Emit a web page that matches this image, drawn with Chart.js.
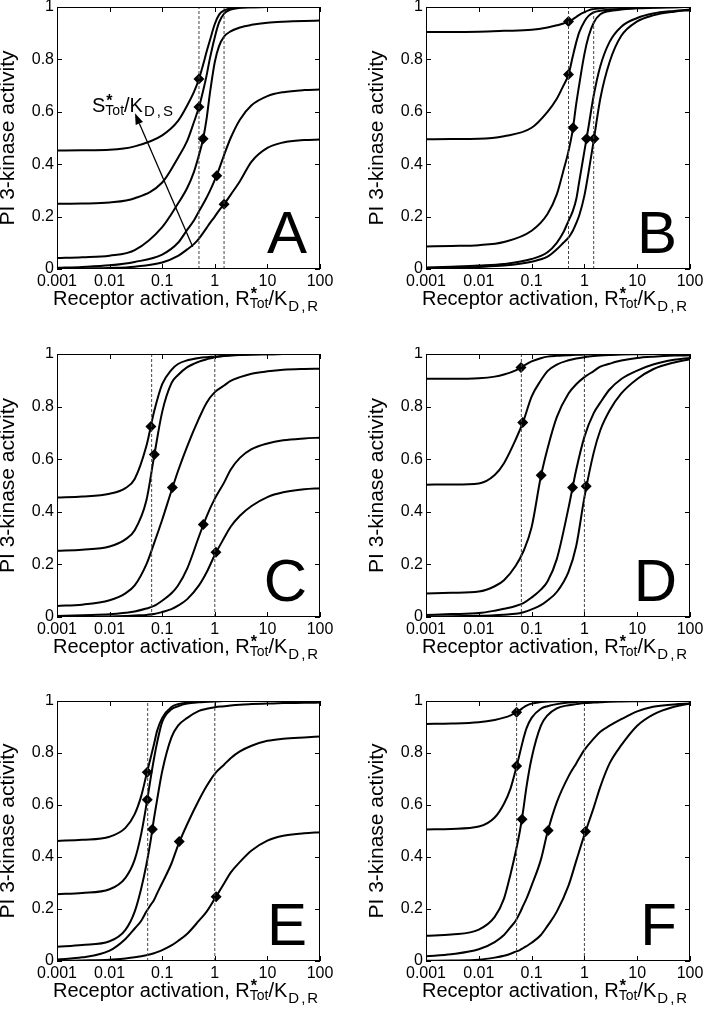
<!DOCTYPE html>
<html>
<head>
<meta charset="utf-8">
<script src="https://cdn.jsdelivr.net/npm/chart.js@4/dist/chart.umd.min.js"></script>
<style>
html, body { margin: 0; padding: 0; background: #fff; }
#wrap { position: relative; width: 705px; height: 1014px; overflow: hidden; background: #fff; }
#wrap canvas { position: absolute; }
</style>
</head>
<body>
<div id="wrap"></div>
<script>
// ---------- tick labels / texts ----------
const xTickValues = [0.001, 0.01, 0.1, 1, 10, 100];
const xTickLabels = ['0.001', '0.01', '0.1', '1', '10', '100'];
const yTickValues = [0, 0.2, 0.4, 0.6, 0.8, 1];
const yTickLabels = ['0', '0.2', '0.4', '0.6', '0.8', '1'];
const xTitleParts = ['Receptor activation, R', '*', 'Tot', '/K', 'D,R'];
const yTitleText = 'PI 3-kinase activity';
const noteParts = ['S', '*', 'Tot', '/K', 'D,S'];
const arrowFrom = [0.38, 0.085];
const arrowTo = [0.0304, 0.594];

// ---------- panel A ----------
const xGridAB = [0.001, 0.003, 0.01, 0.03, 0.1, 0.2, 0.3, 0.4, 0.5, 0.6, 0.7, 0.8, 1, 1.2, 1.5, 2, 3, 5, 10, 20, 50, 100];
const curveA1 = [0.452, 0.453, 0.455, 0.468, 0.51, 0.565, 0.625, 0.675, 0.725, 0.78, 0.83, 0.87, 0.935, 0.97, 0.987, 0.995, 0.998, 0.999, 1, 1, 1, 1];
const curveA2 = [0.249, 0.25, 0.254, 0.27, 0.33, 0.425, 0.49, 0.56, 0.618, 0.68, 0.74, 0.80, 0.885, 0.94, 0.975, 0.99, 0.997, 0.999, 1, 1, 1, 1];
const curveA3 = [0.042, 0.045, 0.051, 0.072, 0.16, 0.25, 0.31, 0.37, 0.435, 0.497, 0.575, 0.665, 0.79, 0.85, 0.887, 0.907, 0.922, 0.932, 0.94, 0.944, 0.947, 0.948];
const curveA4 = [0.005, 0.008, 0.014, 0.027, 0.055, 0.1, 0.15, 0.185, 0.22, 0.248, 0.273, 0.296, 0.34, 0.38, 0.435, 0.5, 0.57, 0.625, 0.66, 0.675, 0.683, 0.685];
const curveA5 = [0, 0.002, 0.004, 0.009, 0.025, 0.05, 0.075, 0.095, 0.116, 0.138, 0.157, 0.174, 0.2, 0.223, 0.247, 0.283, 0.335, 0.41, 0.462, 0.483, 0.492, 0.494];
const markerXA = [0.5, 0.5, 0.6, 1.09, 1.5];
const markerYA = [0.725, 0.618, 0.497, 0.356, 0.247];
const dashXA = [0.5, 1.5];

// ---------- panel B ----------
const curveB1 = [0.905, 0.905, 0.906, 0.909, 0.913, 0.922, 0.93, 0.937, 0.945, 0.953, 0.962, 0.97, 0.98, 0.987, 0.992, 0.995, 0.998, 0.999, 1, 1, 1, 1];
const curveB2 = [0.495, 0.496, 0.497, 0.507, 0.539, 0.60, 0.65, 0.70, 0.742, 0.81, 0.865, 0.904, 0.945, 0.966, 0.98, 0.986, 0.99, 0.993, 0.996, 0.998, 0.999, 1];
const curveB3 = [0.086, 0.088, 0.091, 0.103, 0.146, 0.21, 0.285, 0.375, 0.45, 0.53, 0.63, 0.705, 0.82, 0.888, 0.94, 0.972, 0.985, 0.99, 0.995, 0.997, 0.999, 1];
const curveB4 = [0.006, 0.009, 0.013, 0.019, 0.038, 0.064, 0.10, 0.14, 0.184, 0.22, 0.266, 0.335, 0.45, 0.544, 0.662, 0.774, 0.867, 0.925, 0.958, 0.975, 0.985, 0.99];
const curveB5 = [0.003, 0.005, 0.008, 0.013, 0.028, 0.047, 0.075, 0.10, 0.12, 0.145, 0.175, 0.205, 0.28, 0.37, 0.49, 0.65, 0.79, 0.89, 0.945, 0.968, 0.982, 0.988];
const markerXB = [0.5, 0.5, 0.61, 1.1, 1.52];
const markerYB = [0.945, 0.742, 0.539, 0.497, 0.497];
const dashXB = [0.5, 1.5];

// ---------- panel C ----------
const xGridCD = [0.001, 0.003, 0.01, 0.02, 0.03, 0.05, 0.07, 0.1, 0.15, 0.2, 0.3, 0.5, 0.7, 1, 1.5, 2, 3, 5, 10, 20, 50, 100];
const curveC1 = [0.454, 0.458, 0.469, 0.49, 0.525, 0.65, 0.78, 0.885, 0.94, 0.962, 0.976, 0.985, 0.988, 0.99, 0.993, 0.995, 0.997, 0.998, 0.999, 1, 1, 1];
const curveC2 = [0.252, 0.256, 0.268, 0.295, 0.33, 0.443, 0.61, 0.78, 0.889, 0.92, 0.95, 0.971, 0.98, 0.988, 0.992, 0.994, 0.996, 0.998, 0.999, 1, 1, 1];
const curveC3 = [0.042, 0.047, 0.064, 0.09, 0.12, 0.2, 0.28, 0.37, 0.48, 0.555, 0.65, 0.755, 0.815, 0.855, 0.88, 0.898, 0.912, 0.925, 0.934, 0.94, 0.943, 0.944];
const curveC4 = [0.004, 0.007, 0.01, 0.016, 0.021, 0.032, 0.042, 0.062, 0.09, 0.12, 0.185, 0.306, 0.383, 0.45, 0.511, 0.56, 0.605, 0.638, 0.66, 0.672, 0.679, 0.682];
const curveC5 = [0, 0.001, 0.002, 0.004, 0.006, 0.008, 0.011, 0.019, 0.03, 0.043, 0.068, 0.12, 0.17, 0.236, 0.3, 0.343, 0.385, 0.422, 0.456, 0.474, 0.486, 0.49];
const markerXC = [0.061, 0.071, 0.156, 0.605, 1.05];
const markerYC = [0.724, 0.618, 0.492, 0.352, 0.246];
const dashXC = [0.063, 1];

// ---------- panel D ----------
const curveD1 = [0.906, 0.906, 0.908, 0.914, 0.922, 0.938, 0.955, 0.972, 0.984, 0.99, 0.993, 0.995, 0.997, 0.998, 1, 1, 1, 1, 1, 1, 1, 1];
const curveD2 = [0.503, 0.504, 0.508, 0.54, 0.585, 0.675, 0.745, 0.838, 0.90, 0.935, 0.96, 0.976, 0.983, 0.988, 0.992, 0.994, 0.996, 0.998, 0.999, 1, 1, 1];
const curveD3 = [0.089, 0.092, 0.097, 0.117, 0.14, 0.195, 0.25, 0.341, 0.535, 0.64, 0.76, 0.85, 0.885, 0.912, 0.935, 0.952, 0.963, 0.975, 0.985, 0.99, 0.994, 0.995];
const curveD4 = [0.008, 0.011, 0.015, 0.024, 0.031, 0.042, 0.053, 0.074, 0.104, 0.135, 0.22, 0.415, 0.56, 0.685, 0.775, 0.815, 0.865, 0.905, 0.937, 0.96, 0.978, 0.985];
const curveD5 = [0.002, 0.003, 0.005, 0.007, 0.009, 0.012, 0.018, 0.029, 0.045, 0.063, 0.095, 0.172, 0.27, 0.455, 0.625, 0.71, 0.785, 0.85, 0.905, 0.942, 0.968, 0.98];
const markerXD = [0.063, 0.068, 0.152, 0.596, 1.08];
const markerYD = [0.949, 0.74, 0.539, 0.492, 0.497];
const dashXD = [0.064, 1];

// ---------- panel E ----------
const xGridEF = [0.001, 0.003, 0.01, 0.02, 0.03, 0.04, 0.05, 0.06, 0.07, 0.08, 0.1, 0.15, 0.2, 0.3, 0.5, 0.7, 1, 1.5, 2, 3, 5, 10, 20, 50, 100];
const curveE1 = [0.462, 0.466, 0.478, 0.512, 0.565, 0.635, 0.715, 0.78, 0.835, 0.885, 0.935, 0.977, 0.988, 0.994, 0.997, 0.998, 0.999, 1, 1, 1, 1, 1, 1, 1, 1];
const curveE2 = [0.257, 0.262, 0.276, 0.32, 0.39, 0.49, 0.60, 0.70, 0.78, 0.84, 0.92, 0.968, 0.98, 0.99, 0.995, 0.997, 0.999, 1, 1, 1, 1, 1, 1, 1, 1];
const curveE3 = [0.055, 0.062, 0.076, 0.12, 0.19, 0.28, 0.37, 0.46, 0.55, 0.62, 0.73, 0.86, 0.905, 0.935, 0.962, 0.97, 0.976, 0.98, 0.983, 0.986, 0.988, 0.99, 0.992, 0.993, 0.994];
const curveE4 = [0.006, 0.014, 0.04, 0.085, 0.125, 0.155, 0.19, 0.215, 0.235, 0.26, 0.3, 0.375, 0.445, 0.527, 0.619, 0.673, 0.72, 0.755, 0.78, 0.806, 0.828, 0.847, 0.855, 0.86, 0.863];
const curveE5 = [0, 0.002, 0.005, 0.01, 0.014, 0.018, 0.022, 0.026, 0.03, 0.034, 0.042, 0.06, 0.077, 0.105, 0.155, 0.19, 0.24, 0.298, 0.34, 0.381, 0.425, 0.463, 0.482, 0.491, 0.495];
const markerXE = [0.052, 0.052, 0.065, 0.211, 1.06];
const markerYE = [0.726, 0.62, 0.507, 0.46, 0.247];
const dashXE = [0.053, 1];

// ---------- panel F ----------
const curveF1 = [0.912, 0.913, 0.918, 0.927, 0.936, 0.945, 0.955, 0.965, 0.975, 0.982, 0.99, 0.996, 0.998, 0.999, 1, 1, 1, 1, 1, 1, 1, 1, 1, 1, 1];
const curveF2 = [0.506, 0.508, 0.517, 0.552, 0.605, 0.664, 0.735, 0.80, 0.855, 0.895, 0.935, 0.97, 0.98, 0.988, 0.994, 0.996, 0.998, 0.999, 1, 1, 1, 1, 1, 1, 1];
const curveF3 = [0.097, 0.102, 0.121, 0.17, 0.24, 0.335, 0.42, 0.5, 0.585, 0.67, 0.78, 0.905, 0.945, 0.972, 0.984, 0.988, 0.992, 0.994, 0.995, 0.997, 0.998, 0.999, 1, 1, 1];
const curveF4 = [0.018, 0.026, 0.045, 0.073, 0.1, 0.13, 0.155, 0.185, 0.215, 0.24, 0.29, 0.39, 0.495, 0.61, 0.71, 0.76, 0.812, 0.855, 0.882, 0.905, 0.93, 0.96, 0.978, 0.987, 0.99];
const curveF5 = [0.001, 0.002, 0.005, 0.013, 0.02, 0.028, 0.036, 0.042, 0.05, 0.057, 0.07, 0.1, 0.135, 0.19, 0.29, 0.385, 0.485, 0.59, 0.67, 0.76, 0.83, 0.905, 0.948, 0.978, 0.99];
const markerXF = [0.052, 0.052, 0.066, 0.206, 1.05];
const markerYF = [0.957, 0.75, 0.545, 0.502, 0.498];
const dashXF = [0.052, 1];

// ---------- layout (positions / styles) ----------
const SANS = '"Liberation Sans", Arial, Helvetica, sans-serif';
const XAXIS_H = 30;
const panels = [
  { letter: 'A', grid: xGridAB, curves: [curveA1, curveA2, curveA3, curveA4, curveA5], mx: markerXA, my: markerYA, dash: dashXA,
    left: 0, top: 0, w: 352, h: 347, area: { l: 57, r: 320, t: 7, b: 269 }, note: true },
  { letter: 'B', grid: xGridAB, curves: [curveB1, curveB2, curveB3, curveB4, curveB5], mx: markerXB, my: markerYB, dash: dashXB,
    left: 352, top: 0, w: 353, h: 347, area: { l: 74, r: 338, t: 7, b: 269 } },
  { letter: 'C', grid: xGridCD, curves: [curveC1, curveC2, curveC3, curveC4, curveC5], mx: markerXC, my: markerYC, dash: dashXC,
    left: 0, top: 347, w: 352, h: 347, area: { l: 57, r: 320, t: 7, b: 270 } },
  { letter: 'D', grid: xGridCD, curves: [curveD1, curveD2, curveD3, curveD4, curveD5], mx: markerXD, my: markerYD, dash: dashXD,
    left: 352, top: 347, w: 353, h: 347, area: { l: 74, r: 338, t: 7, b: 270 } },
  { letter: 'E', grid: xGridEF, curves: [curveE1, curveE2, curveE3, curveE4, curveE5], mx: markerXE, my: markerYE, dash: dashXE,
    left: 0, top: 694, w: 352, h: 320, area: { l: 57, r: 320, t: 7, b: 267 } },
  { letter: 'F', grid: xGridEF, curves: [curveF1, curveF2, curveF3, curveF4, curveF5], mx: markerXF, my: markerYF, dash: dashXF,
    left: 352, top: 694, w: 353, h: 320, area: { l: 74, r: 338, t: 7, b: 267 } }
];

function drawScripted(ctx, x, y, parts, mainSize, subDy2) {
  ctx.textAlign = 'left';
  ctx.textBaseline = 'alphabetic';
  ctx.font = mainSize + 'px ' + SANS;
  ctx.fillText(parts[0], x, y);
  x += ctx.measureText(parts[0]).width;
  ctx.font = 'bold 16px ' + SANS;
  ctx.fillText(parts[1], x + 1, y - 6);
  ctx.font = '14px ' + SANS;
  ctx.fillText(parts[2], x, y + 3);
  x += ctx.measureText(parts[2]).width;
  ctx.font = mainSize + 'px ' + SANS;
  ctx.fillText(parts[3], x, y);
  x += ctx.measureText(parts[3]).width;
  ctx.font = '15px ' + SANS;
  try { ctx.letterSpacing = '2px'; } catch (e) {}
  ctx.fillText(parts[4], x + 1, y + subDy2);
  try { ctx.letterSpacing = '0px'; } catch (e) {}
}

function decoPlugin(p) {
  return {
    id: 'deco' + p.letter,
    afterDraw(chart) {
      const ctx = chart.ctx, a = chart.chartArea, xs = chart.scales.x, ys = chart.scales.y;
      ctx.save();
      ctx.strokeStyle = '#000';
      ctx.lineWidth = 1;
      ctx.strokeRect(a.left + 0.5, a.top + 0.5, a.right - a.left - 1, a.bottom - a.top - 1);
      ctx.beginPath();
      xTickValues.forEach(v => {
        const px = Math.round(xs.getPixelForValue(v)) + 0.5;
        ctx.moveTo(px, a.bottom); ctx.lineTo(px, a.bottom - 5);
        ctx.moveTo(px, a.top); ctx.lineTo(px, a.top + 5);
      });
      yTickValues.forEach(v => {
        const py = Math.round(ys.getPixelForValue(v)) + 0.5;
        ctx.moveTo(a.left, py); ctx.lineTo(a.left + 5, py);
        ctx.moveTo(a.right, py); ctx.lineTo(a.right - 5, py);
      });
      ctx.stroke();
      ctx.fillStyle = '#000';
      ctx.font = '60px ' + SANS;
      ctx.textAlign = 'right';
      ctx.textBaseline = 'alphabetic';
      ctx.fillText(p.letter, a.right - 13, a.bottom - 16);
      ctx.save();
      ctx.translate(a.left - 49, (a.top + a.bottom) / 2);
      ctx.rotate(-Math.PI / 2);
      ctx.font = '21px ' + SANS;
      ctx.textAlign = 'center';
      ctx.textBaseline = 'middle';
      ctx.fillText(yTitleText, 0, 0);
      ctx.restore();
      drawScripted(ctx, a.left - 4, a.bottom + 36, xTitleParts, 20, 6);
      if (p.note) {
        drawScripted(ctx, a.left + 35, a.top + 105, noteParts, 20, 4);
        const x0 = xs.getPixelForValue(arrowFrom[0]), y0 = ys.getPixelForValue(arrowFrom[1]);
        const x1 = xs.getPixelForValue(arrowTo[0]), y1 = ys.getPixelForValue(arrowTo[1]);
        const ang = Math.atan2(y1 - y0, x1 - x0);
        const hl = 11, hw = 4;
        const bx = x1 - hl * Math.cos(ang), by = y1 - hl * Math.sin(ang);
        ctx.lineWidth = 1.3;
        ctx.beginPath();
        ctx.moveTo(x0, y0); ctx.lineTo(bx, by);
        ctx.stroke();
        ctx.beginPath();
        ctx.moveTo(x1, y1);
        ctx.lineTo(bx + hw * Math.sin(ang), by - hw * Math.cos(ang));
        ctx.lineTo(bx - hw * Math.sin(ang), by + hw * Math.cos(ang));
        ctx.closePath();
        ctx.fill();
      }
      ctx.restore();
    }
  };
}

const wrap = document.getElementById('wrap');
panels.forEach(p => {
  const cv = document.createElement('canvas');
  cv.width = p.w; cv.height = p.h;
  cv.style.left = p.left + 'px'; cv.style.top = p.top + 'px';
  cv.style.width = p.w + 'px'; cv.style.height = p.h + 'px';
  wrap.appendChild(cv);

  const datasets = [];
  p.dash.forEach(v => {
    datasets.push({
      data: [{ x: v, y: 0 }, { x: v, y: 1 }],
      borderColor: '#444', borderWidth: 1, borderDash: [3, 2],
      pointRadius: 0, fill: false, tension: 0
    });
  });
  p.curves.forEach(c => {
    datasets.push({
      data: p.grid.map((x, i) => ({ x: x, y: c[i] })),
      borderColor: '#000', borderWidth: 2, pointRadius: 0, fill: false,
      cubicInterpolationMode: 'monotone'
    });
  });
  datasets.push({
    data: p.mx.map((x, i) => ({ x: x, y: p.my[i] })),
    showLine: false, pointStyle: 'rectRot', pointRadius: 5.5,
    backgroundColor: '#000', borderColor: '#000', borderWidth: 0
  });

  new Chart(cv, {
    type: 'line',
    data: { datasets: datasets },
    options: {
      responsive: false,
      animation: false,
      devicePixelRatio: 1,
      events: [],
      layout: { padding: { left: 0, top: p.area.t, right: p.w - p.area.r, bottom: p.h - p.area.b - XAXIS_H } },
      plugins: { legend: { display: false }, title: { display: false }, tooltip: { enabled: false } },
      scales: {
        x: {
          type: 'logarithmic', min: 0.001, max: 100, position: 'bottom',
          grid: { display: false, drawTicks: false }, border: { display: false },
          afterBuildTicks: s => { s.ticks = xTickValues.map(v => ({ value: v })); },
          afterFit: s => { s.height = XAXIS_H; s.paddingLeft = 0; s.paddingRight = 0; },
          ticks: {
            autoSkip: false, maxRotation: 0, minRotation: 0, padding: 3, color: '#000',
            font: { family: SANS, size: 16 },
            callback: (v, i) => xTickLabels[i]
          }
        },
        y: {
          type: 'linear', min: 0, max: 1, position: 'left',
          grid: { display: false, drawTicks: false }, border: { display: false },
          afterBuildTicks: s => { s.ticks = yTickValues.map(v => ({ value: v })); },
          afterFit: s => { s.width = p.area.l; s.paddingTop = 0; s.paddingBottom = 0; },
          ticks: {
            autoSkip: false, padding: 3, color: '#000',
            font: { family: SANS, size: 16 },
            callback: (v, i) => yTickLabels[i]
          }
        }
      }
    },
    plugins: [decoPlugin(p)]
  });
});
</script>
</body>
</html>
